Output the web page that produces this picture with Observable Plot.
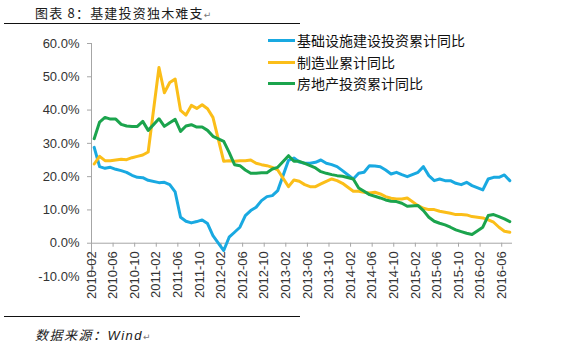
<!DOCTYPE html>
<html><head><meta charset="utf-8">
<script src="https://cdn.jsdelivr.net/npm/d3@7"></script>
<script src="https://cdn.jsdelivr.net/npm/@observablehq/plot@0.6"></script>
<style>
body{margin:0;background:#fff;}
#wrap{position:relative;width:571px;height:355px;overflow:hidden;background:#fff;}
#chart{position:absolute;left:0;top:0;}
.cjk{font-family:"Noto Sans CJK SC",sans-serif;}
.title{position:absolute;left:35px;top:4px;font-size:13px;line-height:17px;color:#1a1a1a;letter-spacing:1.2px;white-space:nowrap;}
.hr{position:absolute;left:4px;width:296px;height:1px;background:#111;}
.foot{position:absolute;left:35px;top:326px;font-size:13px;line-height:17px;color:#1a1a1a;font-style:italic;letter-spacing:1.5px;white-space:nowrap;}
.ret{font-family:"DejaVu Sans",sans-serif;font-size:9px;color:#777;font-style:normal;}
.lg{position:absolute;left:268px;height:20px;}
.lg i{position:absolute;left:0;top:9px;width:27px;height:3px;}
.lg span{position:absolute;left:29px;top:0;font-size:14px;line-height:20px;color:#111;white-space:nowrap;}
</style>
</head><body>
<div id="wrap">
  <div id="chart"></div>
  <div class="title cjk">图表 8：基建投资独木难支<span class="ret">↵</span></div>
  <div class="hr" style="top:23px"></div>
  <div class="hr" style="top:316px"></div>
  <div class="foot cjk">数据来源：<span style="font-family:'Liberation Sans',Arial,sans-serif">Wind</span><span class="ret">↵</span></div>
  <div id="legend"></div>
</div>
<script>
const months = [
 "2010-02","2010-03","2010-04","2010-05","2010-06","2010-07","2010-08","2010-09","2010-10","2010-11","2010-12",
 "2011-02","2011-03","2011-04","2011-05","2011-06","2011-07","2011-08","2011-09","2011-10","2011-11","2011-12",
 "2012-02","2012-03","2012-04","2012-05","2012-06","2012-07","2012-08","2012-09","2012-10","2012-11","2012-12",
 "2013-02","2013-03","2013-04","2013-05","2013-06","2013-07","2013-08","2013-09","2013-10","2013-11","2013-12",
 "2014-02","2014-03","2014-04","2014-05","2014-06","2014-07","2014-08","2014-09","2014-10","2014-11","2014-12",
 "2015-02","2015-03","2015-04","2015-05","2015-06","2015-07","2015-08","2015-09","2015-10","2015-11","2015-12",
 "2016-02","2016-03","2016-04","2016-05","2016-06","2016-07"];

const infra = [
 28.8,23.0,22.5,22.8,22.2,21.8,21.3,20.4,19.8,19.7,18.9,
 18.2,18.3,17.6,15.4,7.8,6.6,6.1,6.5,7.0,5.9,2.3,
 -2.2,1.8,3.3,4.8,8.3,9.8,10.8,12.8,14.0,14.3,15.8,
 24.9,25.6,24.4,24.0,24.0,24.3,25.0,24.0,23.6,23.0,21.8,
 19.3,21.0,21.3,23.3,23.2,23.0,22.0,20.8,21.3,20.6,20.0,
 21.3,23.0,20.3,18.8,19.3,18.8,18.8,18.0,17.6,18.3,17.3,
 16.0,19.3,19.8,19.8,20.5,18.8];

const manuf = [
 23.8,26.1,24.8,24.8,25.0,25.2,25.1,25.7,26.1,26.5,27.4,
 52.8,45.2,48.3,49.3,39.9,38.5,41.4,40.5,41.6,40.4,37.8,
 24.6,24.8,24.6,24.8,24.8,25.0,24.0,23.6,23.3,22.8,22.0,
 17.0,19.0,18.6,17.6,17.0,17.0,17.8,18.6,19.3,18.8,18.0,
 15.6,15.6,15.3,15.1,15.3,14.8,14.0,13.5,13.3,13.3,13.6,
 11.3,10.5,10.1,10.1,9.6,9.3,9.0,8.6,8.6,8.5,8.0,
 7.6,7.0,6.3,4.8,3.6,3.3];

const realty = [
 31.4,36.4,37.8,37.3,37.3,35.7,35.2,35.1,35.1,36.6,33.9,
 37.4,35.1,36.2,37.2,33.6,35.2,35.6,34.9,34.9,33.9,32.1,
 30.6,27.3,23.6,23.3,22.0,21.0,21.0,21.2,21.2,22.3,22.8,
 26.3,24.6,24.6,24.0,23.3,22.6,21.5,21.0,20.6,20.3,20.1,
 19.3,16.6,15.6,14.6,14.1,13.6,13.0,12.6,12.5,12.0,11.1,
 11.3,9.8,7.8,6.6,6.0,5.5,4.8,4.0,3.5,3.0,2.6,
 4.8,8.3,8.6,8.0,7.3,6.5];

const seriesNames = ["基础设施建设投资累计同比","制造业累计同比","房地产投资累计同比"];
const seriesColors = ["#19a9e1","#fbbe19","#1ba44d"];
const xTickLabels = ["2010-02","2010-06","2010-10","2011-02","2011-06","2011-10","2012-02","2012-06","2012-10",
 "2013-02","2013-06","2013-10","2014-02","2014-06","2014-10","2015-02","2015-06","2015-10","2016-02","2016-06"];
const yTicks = [-10,0,10,20,30,40,50,60];

// month index from "YYYY-MM" (months since 2010-02)
const mIdx = s => { const [y, m] = s.split("-").map(Number); return (y - 2010) * 12 + (m - 2); };

const allSeries = [infra, manuf, realty];
const rows = [];
allSeries.forEach((vals, k) => months.forEach((mo, i) => rows.push({s: seriesNames[k], m: mIdx(mo), v: vals[i]})));

const axisGray = "#a6a6a6";
const txt = "#333";
const latin = "'Liberation Sans', Arial, sans-serif";

const chart = Plot.plot({
  width: 571, height: 355,
  marginLeft: 91, marginRight: 59, marginTop: 43, marginBottom: 79,
  style: {background: "transparent", fontFamily: latin},
  x: {domain: [0, 78], axis: null},
  y: {domain: [-10, 60], axis: null},
  color: {domain: seriesNames, range: seriesColors},
  marks: [
    Plot.ruleX([0], {stroke: axisGray}),
    Plot.ruleY([0], {stroke: axisGray}),
    Plot.ruleY(yTicks, {y: d => d, x1: 0, x2: 0, insetLeft: -4, stroke: axisGray}),
    Plot.text(yTicks, {x: 0, y: d => d, text: d => d.toFixed(1) + "%", textAnchor: "end", dx: -12, fontSize: 13, fill: txt, fontFamily: latin}),
    Plot.ruleX(xTickLabels, {x: d => mIdx(d), y1: 0, y2: 0, insetBottom: -4, stroke: axisGray}),
    Plot.text(xTickLabels, {x: d => mIdx(d), y: 0, text: d => d, rotate: -90, textAnchor: "end", lineAnchor: "middle", dy: 8, fontSize: 13, fill: txt, fontFamily: latin}),
    Plot.line(rows, {x: d => d.m + 0.5, y: "v", z: "s", stroke: "s", strokeWidth: 3, strokeLinejoin: "round", strokeLinecap: "round"})
  ]
});
document.getElementById("chart").appendChild(chart);

const lg = document.getElementById("legend");
seriesNames.forEach((n, k) => {
  const d = document.createElement("div");
  d.className = "lg cjk";
  d.style.top = (30 + k * 21.7) + "px";
  d.innerHTML = `<i style="background:${seriesColors[k]}"></i><span>${n}</span>`;
  lg.appendChild(d);
});
</script>
</body></html>
